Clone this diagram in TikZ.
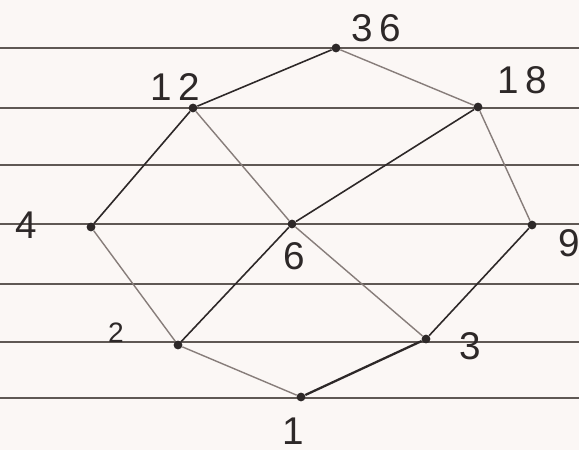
\documentclass[tikz,border=0pt]{standalone}
\usepackage{fontspec}
\setmainfont{Liberation Sans}
\usepackage{tikz}
\usetikzlibrary{positioning}

\definecolor{paper}{RGB}{251,247,245}
\definecolor{ruling}{RGB}{95,88,84}
\definecolor{pencil}{RGB}{45,40,40}
\definecolor{softpencil}{RGB}{135,125,122}

\tikzset{
  dot/.style={circle, fill=pencil, inner sep=0pt, minimum size=5pt},
  num/.style={text=pencil, font=\fontsize{22}{24}\selectfont},
  smallnum/.style={text=pencil, font=\fontsize{16}{18}\selectfont},
  edge/.style={pencil, line width=0.9pt},
  paleedge/.style={softpencil, line width=0.8pt}
}

\begin{document}
\begin{tikzpicture}[x=0.02cm, y=-0.02cm]
		% 1. Paper and its ruled lines
		\fill[paper] (0,0) rectangle (579,450);
		\useasboundingbox (0,0) rectangle (579,450);
		\foreach \y in {48,108,165,224,284,342,398}
			\draw[ruling, line width=0.7pt] (0,\y) -- (579,\y);

		% 2. The divisors of 36
		\node[dot] (d36) at (336,48) {};
		\node[dot] (d12) at (193,108) {};
		\node[dot] (d18) at (478,107) {};
		\node[dot] (d4) at (91,227) {};
		\node[dot] (d6) at (292,224) {};
		\node[dot] (d9) at (532,225) {};
		\node[dot] (d2) at (178,345) {};
		\node[dot] (d3) at (426,339) {};
		\node[dot] (d1) at (301,397) {};

		% 3. Their labels
		\node[num] (l36) at (376,28) {3\,6};
		\node[num] (l12) at (175,87) {1\,2};
		\node[num] (l18) at (522,80) {1\,8};
		\node[num] (l4) at (26,225) {4};
		\node[num] (l6) at (294,256) {6};
		\node[num] (l9) at (569,243) {9};
		\node[smallnum] (l2) at (116,333) {2};
		\node[num] (l3) at (470,346) {3};
		\node[num] (l1) at (293,431) {1};

		% 4. Covering relations
		\draw[edge] (d36) -- (d12);
		\draw[paleedge] (d36) -- (d18);
		\draw[edge] (d12) -- (d4);
		\draw[paleedge] (d12) -- (d6);
		\draw[edge] (d18) -- (d6);
		\draw[paleedge] (d18) -- (d9);
		\draw[paleedge] (d4) -- (d2);
		\draw[edge] (d6) -- (d2);
		\draw[paleedge] (d6) -- (d3);
		\draw[edge] (d9) -- (d3);
		\draw[paleedge] (d2) -- (d1);
		\draw[edge, line width=1.3pt] (d3) -- (d1);
	\end{tikzpicture}
\end{document}
